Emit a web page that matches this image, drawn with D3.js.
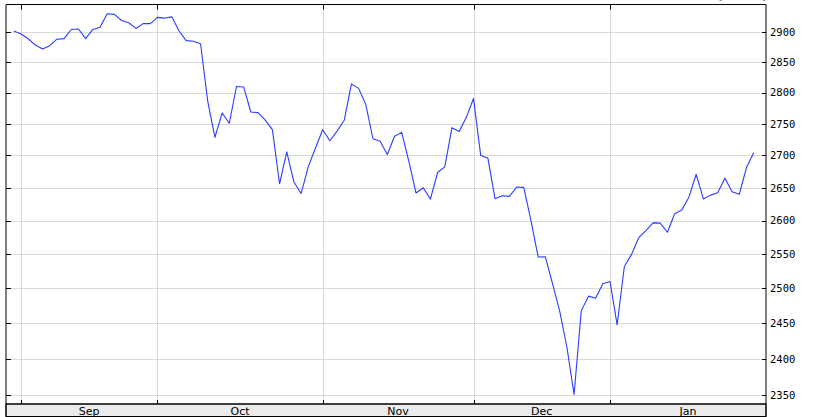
<!DOCTYPE html>
<html>
<head>
<meta charset="utf-8">
<script src="https://cdn.jsdelivr.net/npm/d3@7/dist/d3.min.js"></script>
<style>
  html, body { margin: 0; padding: 0; background: #ffffff; }
  svg { display: block; }
</style>
</head>
<body>
<svg id="chart" width="815" height="417"></svg>
<script>
// ---- Data (S&P 500 daily closes, Aug 31 2018 – Jan 31 2019) ----
const dates = [
  "2018-08-31",
  "2018-09-04","2018-09-05","2018-09-06","2018-09-07","2018-09-10","2018-09-11","2018-09-12","2018-09-13","2018-09-14",
  "2018-09-17","2018-09-18","2018-09-19","2018-09-20","2018-09-21","2018-09-24","2018-09-25","2018-09-26","2018-09-27","2018-09-28",
  "2018-10-01","2018-10-02","2018-10-03","2018-10-04","2018-10-05","2018-10-08","2018-10-09","2018-10-10","2018-10-11","2018-10-12",
  "2018-10-15","2018-10-16","2018-10-17","2018-10-18","2018-10-19","2018-10-22","2018-10-23","2018-10-24","2018-10-25","2018-10-26",
  "2018-10-29","2018-10-30","2018-10-31",
  "2018-11-01","2018-11-02","2018-11-05","2018-11-06","2018-11-07","2018-11-08","2018-11-09","2018-11-12","2018-11-13","2018-11-14",
  "2018-11-15","2018-11-16","2018-11-19","2018-11-20","2018-11-21","2018-11-23","2018-11-26","2018-11-27","2018-11-28","2018-11-29",
  "2018-11-30",
  "2018-12-03","2018-12-04","2018-12-06","2018-12-07","2018-12-10","2018-12-11","2018-12-12","2018-12-13","2018-12-14","2018-12-17",
  "2018-12-18","2018-12-19","2018-12-20","2018-12-21","2018-12-24","2018-12-26","2018-12-27","2018-12-28","2018-12-31",
  "2019-01-02","2019-01-03","2019-01-04","2019-01-07","2019-01-08","2019-01-09","2019-01-10","2019-01-11","2019-01-14","2019-01-15",
  "2019-01-16","2019-01-17","2019-01-18","2019-01-22","2019-01-23","2019-01-24","2019-01-25","2019-01-28","2019-01-29","2019-01-30",
  "2019-01-31"
];
const closes = [
  2901.52,
  2896.72,2888.60,2878.05,2871.68,2877.13,2887.89,2888.92,2904.18,2904.98,
  2888.80,2904.31,2907.95,2930.75,2929.67,2919.37,2915.56,2905.97,2914.00,2913.98,
  2924.59,2923.43,2925.51,2901.61,2885.57,2884.43,2880.34,2785.68,2728.37,2767.13,
  2750.79,2809.92,2809.21,2768.78,2767.78,2755.88,2740.69,2656.10,2705.57,2658.69,
  2641.25,2682.63,2711.74,
  2740.37,2723.06,2738.31,2755.45,2813.89,2806.83,2781.01,2726.22,2722.18,2701.58,
  2730.20,2736.27,2690.73,2641.89,2649.93,2632.56,2673.45,2682.17,2743.79,2737.80,
  2760.17,
  2790.37,2700.06,2695.95,2633.08,2637.72,2636.78,2651.07,2650.54,2599.95,2545.94,
  2546.16,2506.96,2467.42,2416.62,2351.10,2467.70,2488.83,2485.74,2506.85,
  2510.03,2447.89,2531.94,2549.69,2574.41,2584.96,2596.64,2596.26,2582.61,2610.30,
  2616.10,2635.96,2670.71,2632.90,2638.70,2642.33,2664.76,2643.85,2640.00,2681.05,
  2704.10
];
const yTicks = [2350,2400,2450,2500,2550,2600,2650,2700,2750,2800,2850,2900];
const monthLabels = ["Sep","Oct","Nov","Dec","Jan"];
const titleText = "[^GSPC]";

// ---- Layout ----
const L = 6, R = 766, T = 4.5, B = 404, BAND_B = 416.5;
const svg = d3.select("#chart");

const x = d3.scaleLinear().domain([-1.088, 104.72]).range([L, R]);
const y = d3.scaleLog().domain([2338.2, 2946.5]).range([B, T]);

// month tick indices (first trading day of each month)
const monthIdx = [];
dates.forEach((d, i) => {
  if (i > 0 && d.slice(0, 7) !== dates[i - 1].slice(0, 7)) monthIdx.push(i);
});

// grid
const grid = svg.append("g");
grid.selectAll("line.h").data(yTicks).enter().append("line")
  .attr("x1", L).attr("x2", R)
  .attr("y1", d => Math.round(y(d)) + 0.5).attr("y2", d => Math.round(y(d)) + 0.5)
  .attr("stroke", "#d9d9d9").attr("stroke-width", 1);
grid.selectAll("line.v").data(monthIdx).enter().append("line")
  .attr("x1", d => Math.round(x(d)) + 0.5).attr("x2", d => Math.round(x(d)) + 0.5)
  .attr("y1", T).attr("y2", B)
  .attr("stroke", "#d9d9d9").attr("stroke-width", 1);

// price line
const line = d3.line().x((d, i) => x(i)).y(d => y(d));
svg.append("path").datum(closes)
  .attr("d", line)
  .attr("fill", "none")
  .attr("stroke", "#2a3cff")
  .attr("stroke-width", 1.1)
  .attr("stroke-linejoin", "round");

// x band
svg.append("rect")
  .attr("x", L).attr("y", B).attr("width", R - L).attr("height", BAND_B - B)
  .attr("fill", "#ebebeb").attr("stroke", "#000").attr("stroke-width", 1);

// frame
svg.append("path")
  .attr("d", `M${L},${BAND_B}V${T}H${R}V${BAND_B}`)
  .attr("fill", "none").attr("stroke", "#000").attr("stroke-width", 1);
svg.append("line").attr("x1", L).attr("x2", R).attr("y1", B).attr("y2", B)
  .attr("stroke", "#000").attr("stroke-width", 1);

// y ticks (inward, both sides)
const ticks = svg.append("g").attr("stroke", "#000").attr("stroke-width", 1);
yTicks.forEach(v => {
  const yy = Math.round(y(v)) + 0.5;
  ticks.append("line").attr("x1", L).attr("x2", L + 5).attr("y1", yy).attr("y2", yy);
  ticks.append("line").attr("x1", R - 4).attr("x2", R).attr("y1", yy).attr("y2", yy);
});
// month ticks (inward, top and bottom)
monthIdx.forEach(i => {
  const xx = Math.round(x(i)) + 0.5;
  ticks.append("line").attr("x1", xx).attr("x2", xx).attr("y1", T).attr("y2", T + 5);
  ticks.append("line").attr("x1", xx).attr("x2", xx).attr("y1", B - 4).attr("y2", B);
});

// y labels
svg.append("g").selectAll("text").data(yTicks).enter().append("text")
  .attr("x", 770).attr("y", d => y(d)).attr("dy", "0.36em")
  .attr("font-family", "DejaVu Sans Mono").attr("font-size", 10.5)
  .attr("fill", "#000").text(d => d);

// month labels, centered between month ticks
const bounds = monthIdx.map(i => x(i)).concat([R]);
svg.append("g").selectAll("text").data(monthLabels).enter().append("text")
  .attr("x", (d, k) => (bounds[k] + bounds[k + 1]) / 2)
  .attr("y", 414.5)
  .attr("text-anchor", "middle")
  .attr("font-family", "DejaVu Sans").attr("font-size", 11)
  .attr("fill", "#000").text(d => d);

// cut-off title at top right
svg.append("text").attr("x", R).attr("y", -1.5).attr("text-anchor", "end")
  .attr("font-family", "DejaVu Sans").attr("font-size", 11)
  .attr("fill", "#1a5fd0").text(titleText);
</script>
</body>
</html>
